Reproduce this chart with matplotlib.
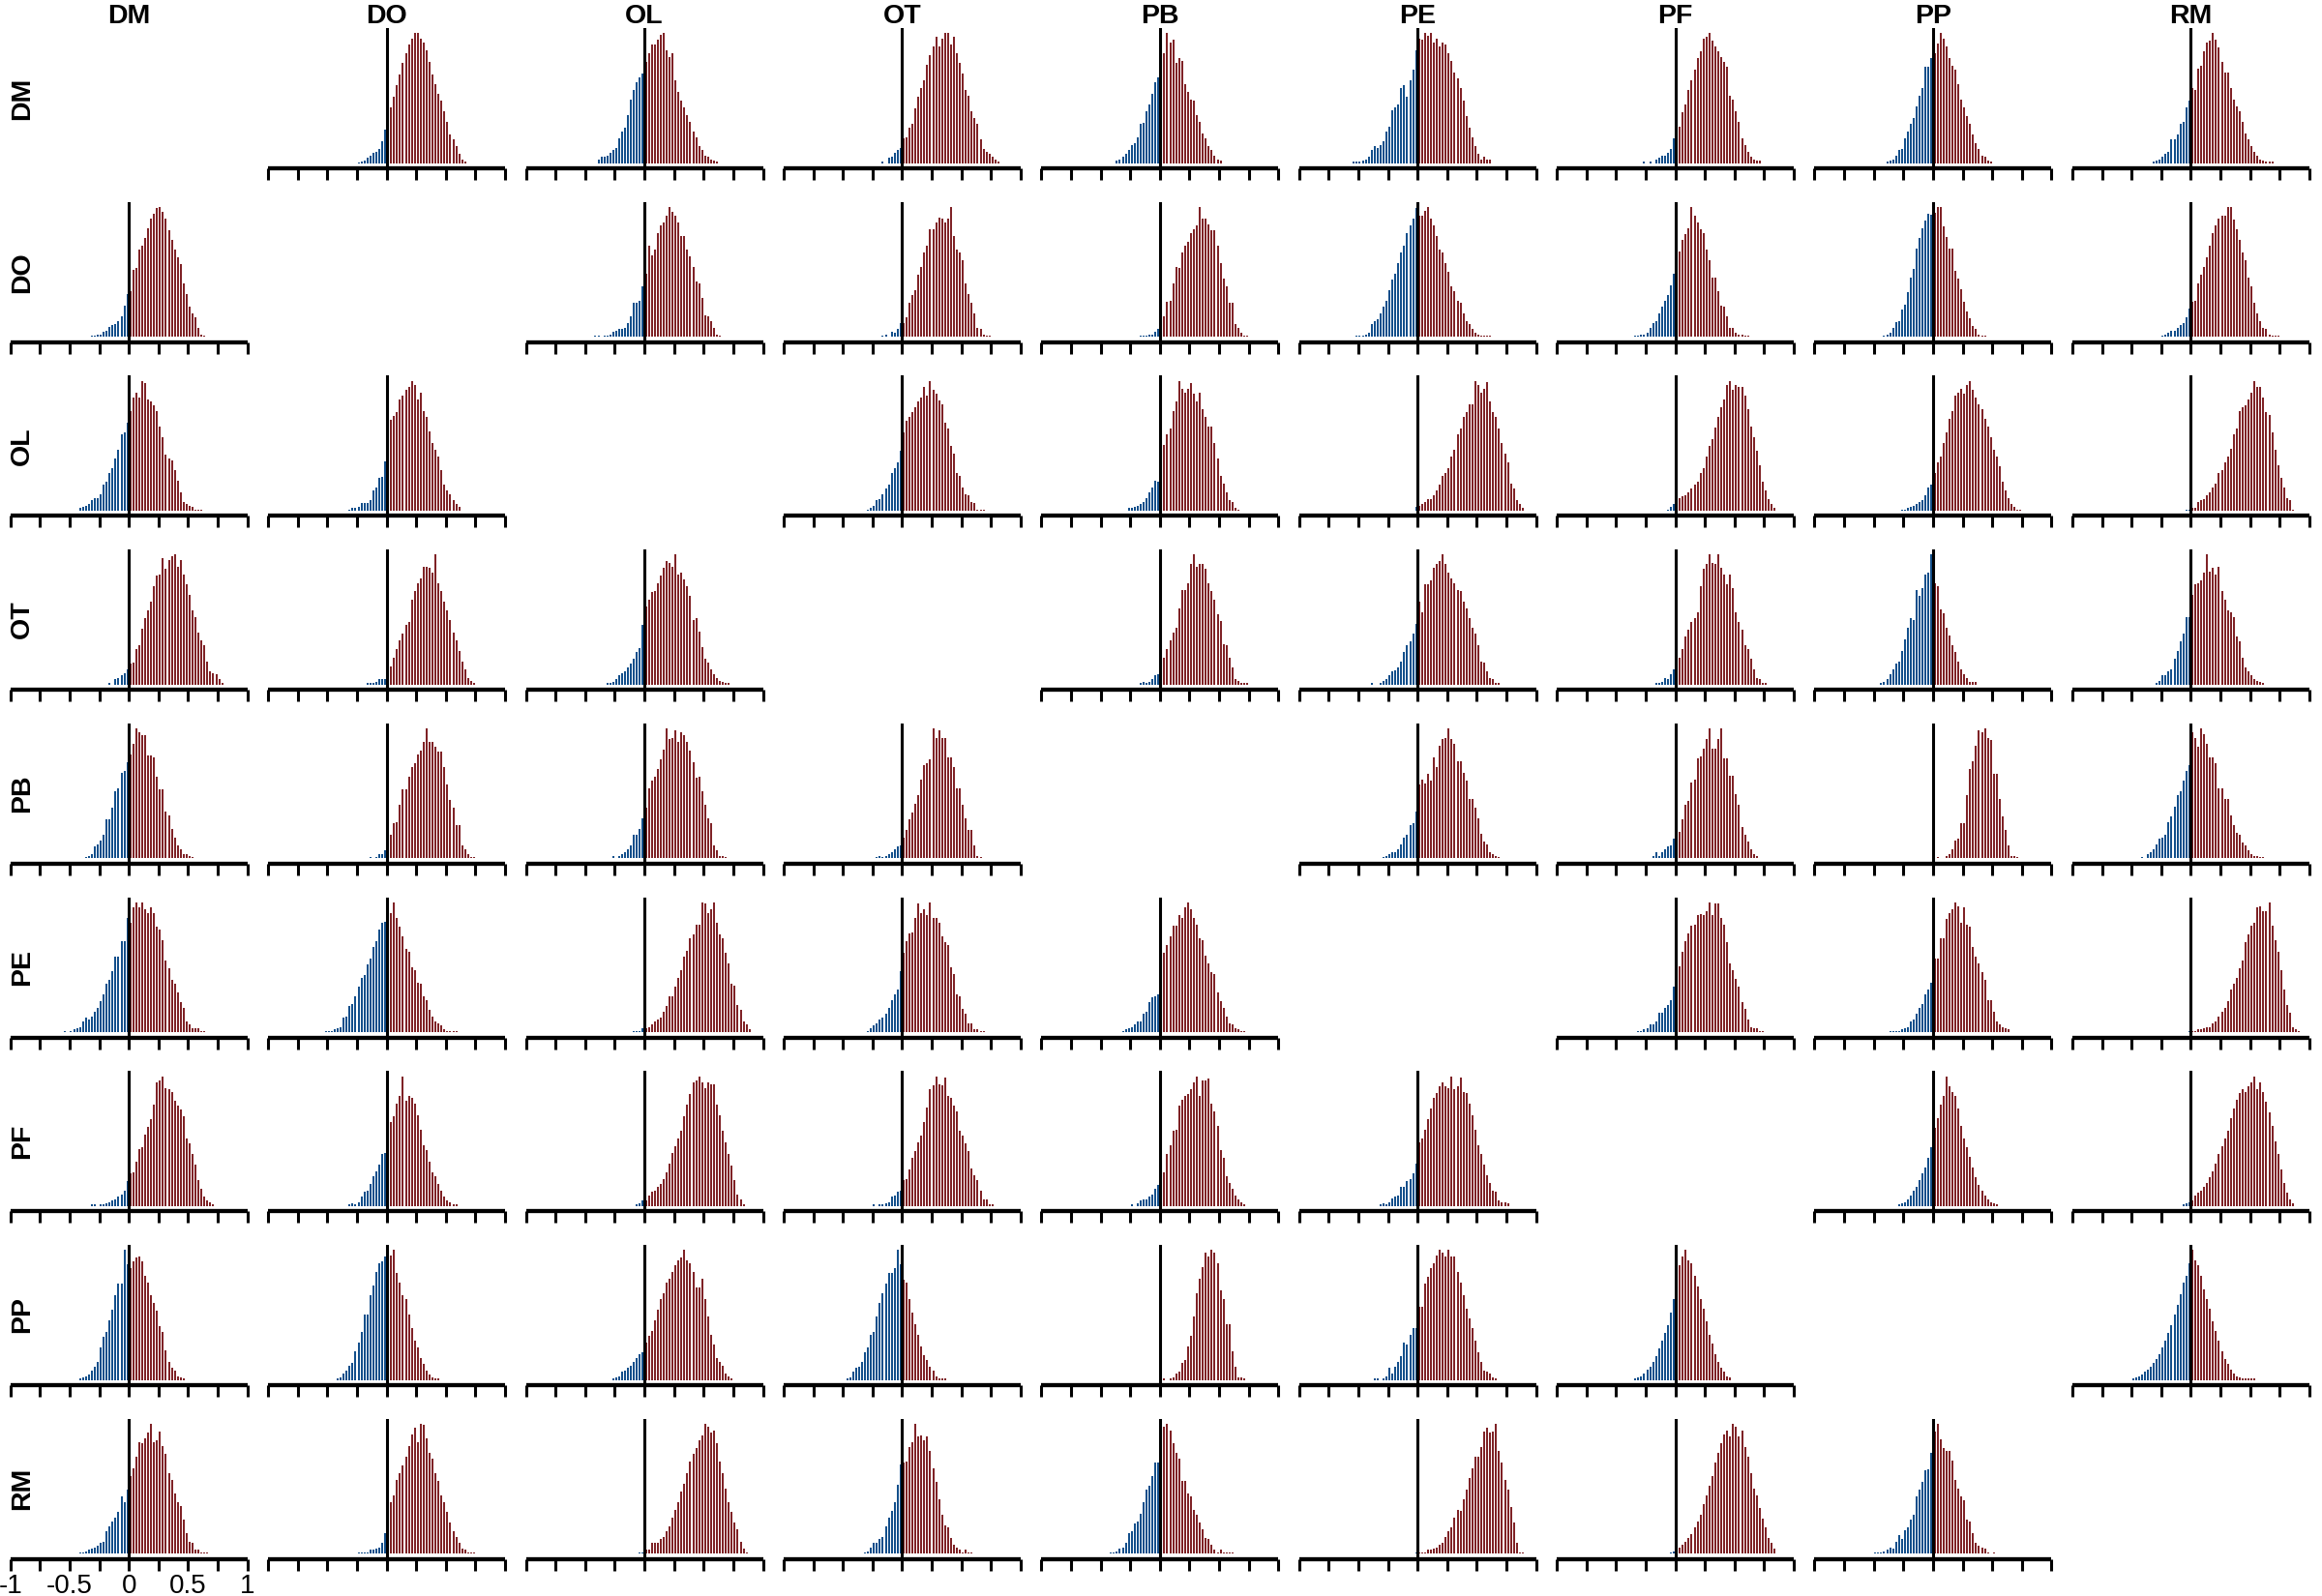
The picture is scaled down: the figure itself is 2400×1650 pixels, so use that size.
import matplotlib
matplotlib.use("Agg")
import matplotlib.pyplot as plt
import numpy as np

labels = ["DM", "DO", "OL", "OT", "PB", "PE", "PF", "PP", "RM"]
bin_width = 0.025
tick_values = [-1, -0.75, -0.5, -0.25, 0, 0.25, 0.5, 0.75, 1]
tick_texts = ["-1", "", "-0.5", "", "0", "", "0.5", "", "1"]

# each panel: (left edge of first bin, bar heights)  row_col
DM_DO = (-0.25, [0.5,1,2,4,6,8,9,11,17,26, 35,43,51,60,68,77,85,91,96,100,100,96,93,87,78,68,61,53,48,40,32,22,18,13,7,3,1])
DM_OL = (-0.4, [3,5,5,6,8,10,12,19,24,27,37,49,56,62,66,69, 78,85,91,91,95,99,100,87,82,85,64,55,48,43,37,32,24,20,13,10,6,5,3,2,1])
DM_OT = (-0.175, [1,0,4,5,8,10,12, 19,20,27,30,42,51,58,64,76,83,90,97,90,96,100,100,91,97,85,77,69,56,52,40,35,30,18,11,9,7,5,3,1])
DM_PB = (-0.375, [2,3,5,7,10,14,15,20,30,31,40,45,53,62,66, 82,85,100,93,95,77,81,79,61,55,49,48,37,32,23,19,13,10,6,3,2])
DM_PE = (-0.55, [1,1,1,2,3,5,10,13,12,14,17,24,28,41,43,45,58,60,51,64,72,87, 96,95,100,98,100,93,96,90,93,91,85,79,70,65,58,48,36,27,20,13,7,3,5,3,3])
DM_PF = (-0.275, [1,0,1,0,3,4,6,6,8,11,19, 24,28,39,45,56,64,72,81,86,96,97,100,94,90,86,82,78,74,52,49,40,32,19,14,9,5,3,2,2])
DM_PP = (-0.4, [1,2,3,6,10,11,19,24,30,35,44,52,58,74,74,81, 85,92,100,96,90,81,75,72,61,49,43,36,30,22,15,11,6,5,2,1])
DM_RM = (-0.325, [1,2,3,5,7,9,18,18,22,30,32,43,48, 58,56,73,75,86,93,94,100,95,89,78,70,70,58,49,44,40,32,23,18,13,9,6,3,2,1,1,1])

DO_DM = (-0.325, [1,1,2,2,4,5,8,9,10,12,16,24,33, 35,52,53,67,70,76,84,91,95,99,100,96,91,82,75,67,61,56,41,33,23,18,15,7,2,1])
DO_OL = (-0.425, [1,1,0,1,1,2,4,5,6,6,7,11,16,26,26,28,39, 49,70,63,67,80,86,88,93,100,96,93,88,78,78,67,62,54,43,41,30,17,16,12,7,2,1])
DO_OT = (-0.2, [0,1,2,0,4,3,6,11, 11,15,26,32,36,48,54,65,70,83,83,88,92,91,88,91,100,78,67,65,59,41,33,26,18,7,6,2,1,1])
DO_PB = (-0.175, [1,1,1,2,2,4,6, 18,16,27,28,41,54,53,65,70,73,80,83,86,100,91,91,87,82,82,70,57,45,39,26,26,10,7,3,1,1])
DO_PE = (-0.525, [1,1,1,2,3,10,12,14,18,23,28,36,44,49,57,65,70,80,86,91,99, 93,93,97,100,91,86,78,67,65,57,50,39,35,28,26,18,12,10,6,3,2,1,1,1,1])
DO_PF = (-0.35, [1,1,2,2,3,7,11,12,18,23,28,32,40,49, 63,66,75,79,84,100,93,88,83,80,67,59,46,46,35,24,23,16,7,7,3,2,2,1,1])
DO_PP = (-0.45, [0,1,2,3,7,11,12,20,24,33,44,50,65,73,80,86,91,90, 92,96,96,82,74,65,65,49,43,35,26,19,14,8,6,2,1,1])
DO_RM = (-0.25, [1,2,3,5,5,7,9,11,15,22, 27,28,41,48,54,61,70,80,86,91,93,93,100,100,90,83,75,65,59,46,39,26,18,12,7,6,2,1,1,1])

OL_DM = (-0.425, [2,3,4,5,8,10,10,13,20,22,29,33,40,47,59,60,68, 77,87,91,87,100,98,86,84,81,77,65,57,43,40,39,31,23,14,7,5,4,3,1,1,1])
OL_DO = (-0.325, [1,2,2,3,6,6,6,8,16,18,25,26,38, 42,70,73,76,86,89,93,95,100,97,86,91,77,72,61,52,47,42,31,20,16,13,8,5,3])
OL_OT = (-0.325, [0,1,2,4,8,9,13,17,20,29,33,37,46, 60,69,72,76,80,84,87,95,89,100,93,90,85,82,68,63,50,44,29,27,18,13,12,7,6,1,1,1])
OL_PB = (-0.275, [2,2,3,4,5,7,10,14,18,23,22, 39,51,59,63,77,84,100,94,91,94,98,90,84,91,78,72,65,65,52,40,27,21,14,8,7,2,1])
OL_PE = (-0.025, [3, 4,5,7,9,9,12,16,20,27,29,33,42,47,59,63,72,76,82,82,100,97,91,94,99,84,76,72,63,52,44,37,21,17,8,5,2])
OL_PF = (-0.075, [1,3,5, 5,10,11,12,14,17,20,22,29,33,42,50,55,64,72,80,86,97,100,93,97,95,95,89,78,65,57,46,35,22,16,9,5,2])
OL_PP = (-0.3, [0,1,1,2,3,4,5,7,8,12,18,20, 29,37,42,52,60,71,77,89,91,94,90,97,100,93,87,82,78,71,65,57,47,42,34,22,16,10,5,3,1,1])
OL_RM = (-0.05, [1,1, 2,2,7,8,9,12,14,18,21,29,31,37,42,48,59,63,77,80,81,86,91,100,95,95,87,76,74,60,47,35,25,18,10,8,1])

OT_DM = (-0.175, [1,0,4,5,7,9,12, 16,17,27,30,43,51,57,64,76,84,85,97,89,96,99,100,91,96,85,77,69,57,52,40,34,30,18,10,9,8,4,1])
OT_DO = (-0.175, [1,1,1,2,4,4,4, 10,14,21,27,34,39,46,48,65,72,78,82,91,91,90,86,100,78,72,64,57,50,40,34,26,18,12,5,3,1])
OT_OL = (-0.325, [1,1,2,4,7,9,10,13,16,20,25,28,46, 60,65,71,72,78,84,90,95,94,91,100,85,86,81,76,68,50,51,41,29,20,17,12,8,5,3,2,1,1])
OT_PB = (-0.225, [0,0,1,2,1,2,4,7,8, 17,21,27,34,40,44,59,73,73,78,93,100,91,93,93,89,78,72,65,54,49,31,30,21,13,4,3,1,1,1])
OT_PE = (-0.4, [1,0,0,1,3,4,7,10,11,13,18,25,30,33,39,47, 64,56,77,77,80,90,93,95,100,93,86,82,78,73,72,64,59,51,44,39,30,18,17,10,5,4,1,1])
OT_PF = (-0.2, [0,1,1,2,5,4,8,12, 21,21,27,37,42,48,51,56,76,89,93,100,94,93,100,90,85,77,85,74,56,48,42,30,27,20,12,5,4,1,1])
OT_PP = (-0.475, [0,1,2,4,8,12,16,18,26,35,44,51,50,73,68,74,85,86,100, 78,76,58,55,44,38,30,25,18,12,8,5,2,2,2])
OT_RM = (-0.3, [1,3,7,7,10,12,20,26,33,39,52,52, 69,77,78,80,86,100,87,90,85,91,72,65,57,56,52,37,33,21,13,10,7,4,3,2,1])

PB_DM = (-0.4, [0,1,2,3,9,11,14,18,30,30,39,52,54,66,67,74, 80,88,100,97,95,95,79,79,78,63,53,53,36,33,23,16,10,7,3,3,2,1])
PB_DO = (-0.15, [1,0,1,3,3,6, 16,18,27,28,41,53,53,63,70,73,80,83,90,100,90,90,86,82,82,70,57,45,39,26,26,10,7,3,1,1])
PB_OL = (-0.275, [2,0,2,3,5,7,10,18,18,23,31, 39,54,60,63,69,76,84,100,92,93,99,90,97,95,90,83,74,62,63,52,41,31,27,10,6,2,2,1])
PB_OT = (-0.25, [0,1,2,1,2,3,5,7,9,10, 16,22,30,35,42,49,61,72,73,76,100,93,99,93,93,78,78,70,54,54,41,31,22,22,10,2,1])
PB_PE = (-0.325, [0,1,2,3,5,5,7,11,16,18,26,27,36, 57,61,58,65,60,78,70,87,92,93,100,92,88,75,75,66,60,46,46,39,31,19,13,11,5,3,2,1])
PB_PF = (-0.2, [2,5,2,5,7,9,10,15, 20,20,30,41,44,58,60,76,78,84,91,99,84,84,91,99,76,76,63,63,49,41,24,18,13,7,3,2])
PB_PP = (0.0, [0,1,0,0,2,3,7,14,15,27,27,49,69,75,87,99,97,100,93,91,65,65,46,32,22,10,2,2,1])
PB_RM = (-0.425, [1,0,3,5,7,11,15,16,18,28,32,40,49,52,60,67,72, 97,93,86,100,96,88,78,78,73,54,54,46,46,33,26,20,18,12,10,6,3,2,2,1,1])

PE_DM = (-0.55, [1,0,1,2,3,4,8,11,10,12,16,19,24,29,37,40,47,58,58,70,70,88, 84,96,100,96,100,95,92,96,92,81,79,71,55,49,40,37,31,23,19,8,6,3,3,3,1,1])
PE_DO = (-0.525, [1,1,1,2,3,4,11,12,20,22,28,35,42,44,52,57,66,70,79,84,85, 93,92,100,88,81,74,64,62,50,48,38,37,28,25,17,12,8,7,5,2,1,1,1,1])
PE_OL = (-0.1, [1,1,1,3, 3,4,6,8,10,11,16,20,28,28,35,42,48,58,63,72,75,83,83,100,99,92,95,100,84,75,72,61,53,37,36,21,17,8,6,2])
PE_OT = (-0.325, [0,1,3,5,7,10,11,14,19,25,29,33,47, 61,70,76,77,88,99,92,95,90,100,88,88,84,74,69,67,50,45,29,28,18,14,7,7,2,2,1,1])
PE_PB = (-0.35, [0,1,2,3,4,6,8,8,14,16,23,27,28,29, 58,61,67,74,82,82,90,88,96,100,95,88,83,72,71,59,53,46,45,31,24,19,12,7,6,3,2,1,1])
PE_PF = (-0.325, [1,1,2,3,6,6,8,15,15,19,21,25,35, 49,51,62,70,76,82,83,90,91,90,93,100,90,99,99,88,83,69,53,48,41,35,23,18,10,4,3,3,1,1])
PE_PP = (-0.375, [1,1,1,1,2,3,4,8,10,14,19,22,29,33,38, 57,57,72,72,87,92,95,100,97,84,96,83,81,66,58,53,46,40,25,25,16,8,6,4,3,2])
PE_RM = (-0.025, [1, 1,1,2,2,3,4,4,7,8,12,16,19,24,33,37,42,49,55,69,75,82,84,96,97,93,93,100,82,71,62,48,33,21,15,4,2,1])

PF_DM = (-0.325, [1,1,0,1,1,2,3,4,5,7,9,12,19, 25,26,34,44,45,55,61,67,78,95,97,100,91,90,88,81,77,74,69,52,48,40,32,20,13,7,4,3,1])
PF_DO = (-0.325, [1,2,1,3,7,11,12,17,23,27,32,40,41, 62,65,69,79,85,100,81,85,83,79,70,59,47,43,34,26,23,17,12,7,4,3,1,1])
PF_OL = (-0.075, [1,2,4, 4,8,11,12,15,17,21,26,33,41,46,52,58,69,78,86,95,97,100,95,91,95,94,94,78,70,58,49,40,31,20,9,5,1])
PF_OT = (-0.25, [1,0,1,1,2,3,7,8,11,12, 20,21,28,37,42,49,54,65,76,90,93,100,94,93,99,85,83,77,73,58,54,48,42,29,24,20,12,5,5,1,1])
PF_PB = (-0.25, [1,0,2,4,5,5,7,9,13,16, 21,26,40,47,58,59,77,82,85,86,90,95,100,85,97,97,98,79,73,62,43,37,23,18,13,8,5,3,1])
PF_PE = (-0.325, [1,2,1,3,6,7,8,15,15,19,21,25,33, 49,52,59,67,75,83,87,92,95,92,91,100,90,92,99,88,87,79,70,59,47,40,32,24,18,12,11,4,3,3,2])
PF_PP = (-0.3, [1,2,3,5,8,12,15,20,25,30,37,45, 60,68,78,85,100,92,88,85,75,62,52,45,38,30,22,16,12,8,5,3,2,1])
PF_RM = (-0.075, [1,2,3, 4,8,10,12,15,18,22,27,33,40,46,52,58,68,75,82,87,90,88,92,95,100,90,95,88,80,72,62,50,40,28,18,10,5,2])

PP_DM = (-0.425, [1,2,3,4,7,10,14,25,33,37,46,54,65,74,74,100,89, 86,91,94,95,91,80,75,65,59,53,41,37,23,14,9,7,3,2,1])
PP_DO = (-0.45, [0,1,2,5,7,11,13,22,29,37,50,50,65,73,83,90,91,95, 93,96,100,82,75,65,62,50,40,30,25,17,12,7,4,2,1,1])
PP_OL = (-0.3, [0,1,2,3,6,7,9,11,14,17,20,21, 29,34,38,46,54,62,67,75,78,83,88,92,94,100,92,90,83,71,71,78,62,49,35,27,17,14,11,5,3,1])
PP_OT = (-0.475, [1,2,6,9,10,14,21,25,35,37,49,59,67,74,82,82,86,100,89, 77,75,62,52,43,35,26,19,15,10,7,3,1,1,1])
PP_PB = (0.0, [0,1,0,1,2,5,6,13,15,26,34,49,67,78,87,98,95,100,98,90,69,62,43,43,22,10,2,2,1])
PP_PE = (-0.375, [1,1,0,1,3,9,5,10,14,18,29,27,35,40,40, 56,56,74,79,86,90,96,100,98,95,100,95,95,83,75,65,55,47,40,30,21,14,7,6,5,2,1])
PP_PF = (-0.35, [1,2,3,5,8,10,14,18,24,30,36,42,52,62, 75,88,95,100,92,90,80,72,62,55,45,35,28,20,14,9,6,3,2])
PP_RM = (-0.5, [1,2,3,4,6,8,10,13,16,20,25,30,36,42,50,58,66,75,80,90, 100,92,88,80,70,62,55,45,38,30,22,16,12,8,5,3,2,1,1,1,1,1])

RM_DM = (-0.425, [1,1,2,3,4,5,6,8,9,17,21,25,28,32,44,40,49, 60,66,75,86,85,89,93,100,86,87,94,83,77,62,57,46,40,37,26,16,9,8,3,3,1,1,1])
RM_DO = (-0.275, [0,1,1,1,1,3,3,4,5,8,16, 28,40,45,57,62,68,75,83,92,97,86,100,99,89,78,73,62,56,45,40,32,24,17,13,8,4,3,1,1,1])
RM_OL = (-0.05, [1,1, 3,3,8,8,8,11,13,17,21,28,34,40,48,54,62,71,77,81,87,91,100,98,93,95,85,71,62,50,40,32,24,19,9,4,1])
RM_OT = (-0.325, [1,2,5,8,8,11,13,21,28,33,40,53,69, 70,71,82,86,100,90,91,87,90,79,66,55,42,30,22,20,12,7,5,3,1,3,1,1])
RM_PB = (-0.45, [0,1,1,2,4,5,8,16,17,23,25,31,40,49,52,60,70,70, 94,98,100,95,85,78,73,56,56,46,44,34,30,24,19,12,11,7,3,1,3,1,1,1,1])
RM_PE = (-0.025, [1, 1,1,1,3,3,4,5,7,8,13,17,20,28,34,33,42,49,58,66,75,75,82,94,97,93,94,100,79,70,57,49,36,24,8,1,1])
RM_PF = (-0.05, [1,2, 3,5,7,9,12,15,20,25,30,38,45,52,60,70,78,85,92,95,90,100,98,90,95,82,75,62,50,45,35,27,20,12,8,4])
RM_PP = (-0.5, [1,1,1,2,3,5,4,9,14,11,18,20,26,30,44,49,55,64,65,78, 94,100,88,81,79,79,72,57,50,44,41,26,25,16,8,6,5,4,1,0,1])

data = {(r, c): globals()[f"{r}_{c}"] for r in labels for c in labels if r != c}

# ---------------- drawing ----------------
plt.rcParams['font.family'] = ['Liberation Sans', 'DejaVu Sans']
W, H = 2400, 1650
fig = plt.figure(figsize=(24, 16.5), dpi=100)
BLUE = "#134f8b"
RED = "#7f2226"

px_per_unit = 122.5
col_pitch = 266.4
row_pitch = 179.7
x_left_tick = 10.7
axis_y0 = 174.0   # y (from top) of first row axis
plot_h = 145.0

for i, r in enumerate(labels):
    for j, c in enumerate(labels):
        if i == j:
            continue
        left = x_left_tick + col_pitch * j - 0.08 * px_per_unit
        width = 2.16 * px_per_unit
        ybot = axis_y0 + row_pitch * i
        ax = fig.add_axes([left / W, 1 - ybot / H, width / W, plot_h / H])
        start, h = data[(r, c)]
        h = np.asarray(h, float)
        centers = start + (np.arange(len(h)) + 0.5) * bin_width
        colors = np.where(centers < 0, BLUE, RED)
        ax.vlines(centers, 0, h, colors=colors, linewidth=1.15,
                  antialiased=False)
        M = h.max()
        ax.set_xlim(-1.08, 1.08)
        ax.set_ylim(-0.04 * M, 1.04 * M)
        ax.axvline(0, color="black", lw=2.2, zorder=3)
        for s in ["top", "left", "right"]:
            ax.spines[s].set_visible(False)
        ax.spines["bottom"].set_bounds(-1, 1)
        ax.spines["bottom"].set_linewidth(3.1)
        ax.spines["bottom"].set_capstyle("butt")
        ax.set_yticks([])
        ax.set_xticks(tick_values)
        ax.tick_params(axis="x", direction="out", length=8.8, width=2.2, pad=2,
                       labelsize=20)
        if i == len(labels) - 1 and j == 0:
            ax.set_xticklabels(tick_texts)
        else:
            ax.set_xticklabels([])
        ax.patch.set_visible(False)

for j, c in enumerate(labels):
    xc = x_left_tick + px_per_unit + col_pitch * j
    fig.text(xc / W, 1 - 17 / H, c, ha="center", va="center",
             fontsize=20.5, fontweight="bold")

for i, r in enumerate(labels):
    yc = axis_y0 - plot_h / 2 + row_pitch * i
    fig.text(23 / W, 1 - yc / H, r, ha="center", va="center", rotation=90,
             fontsize=20.5, fontweight="bold")

fig.savefig("out.png", dpi=100)
